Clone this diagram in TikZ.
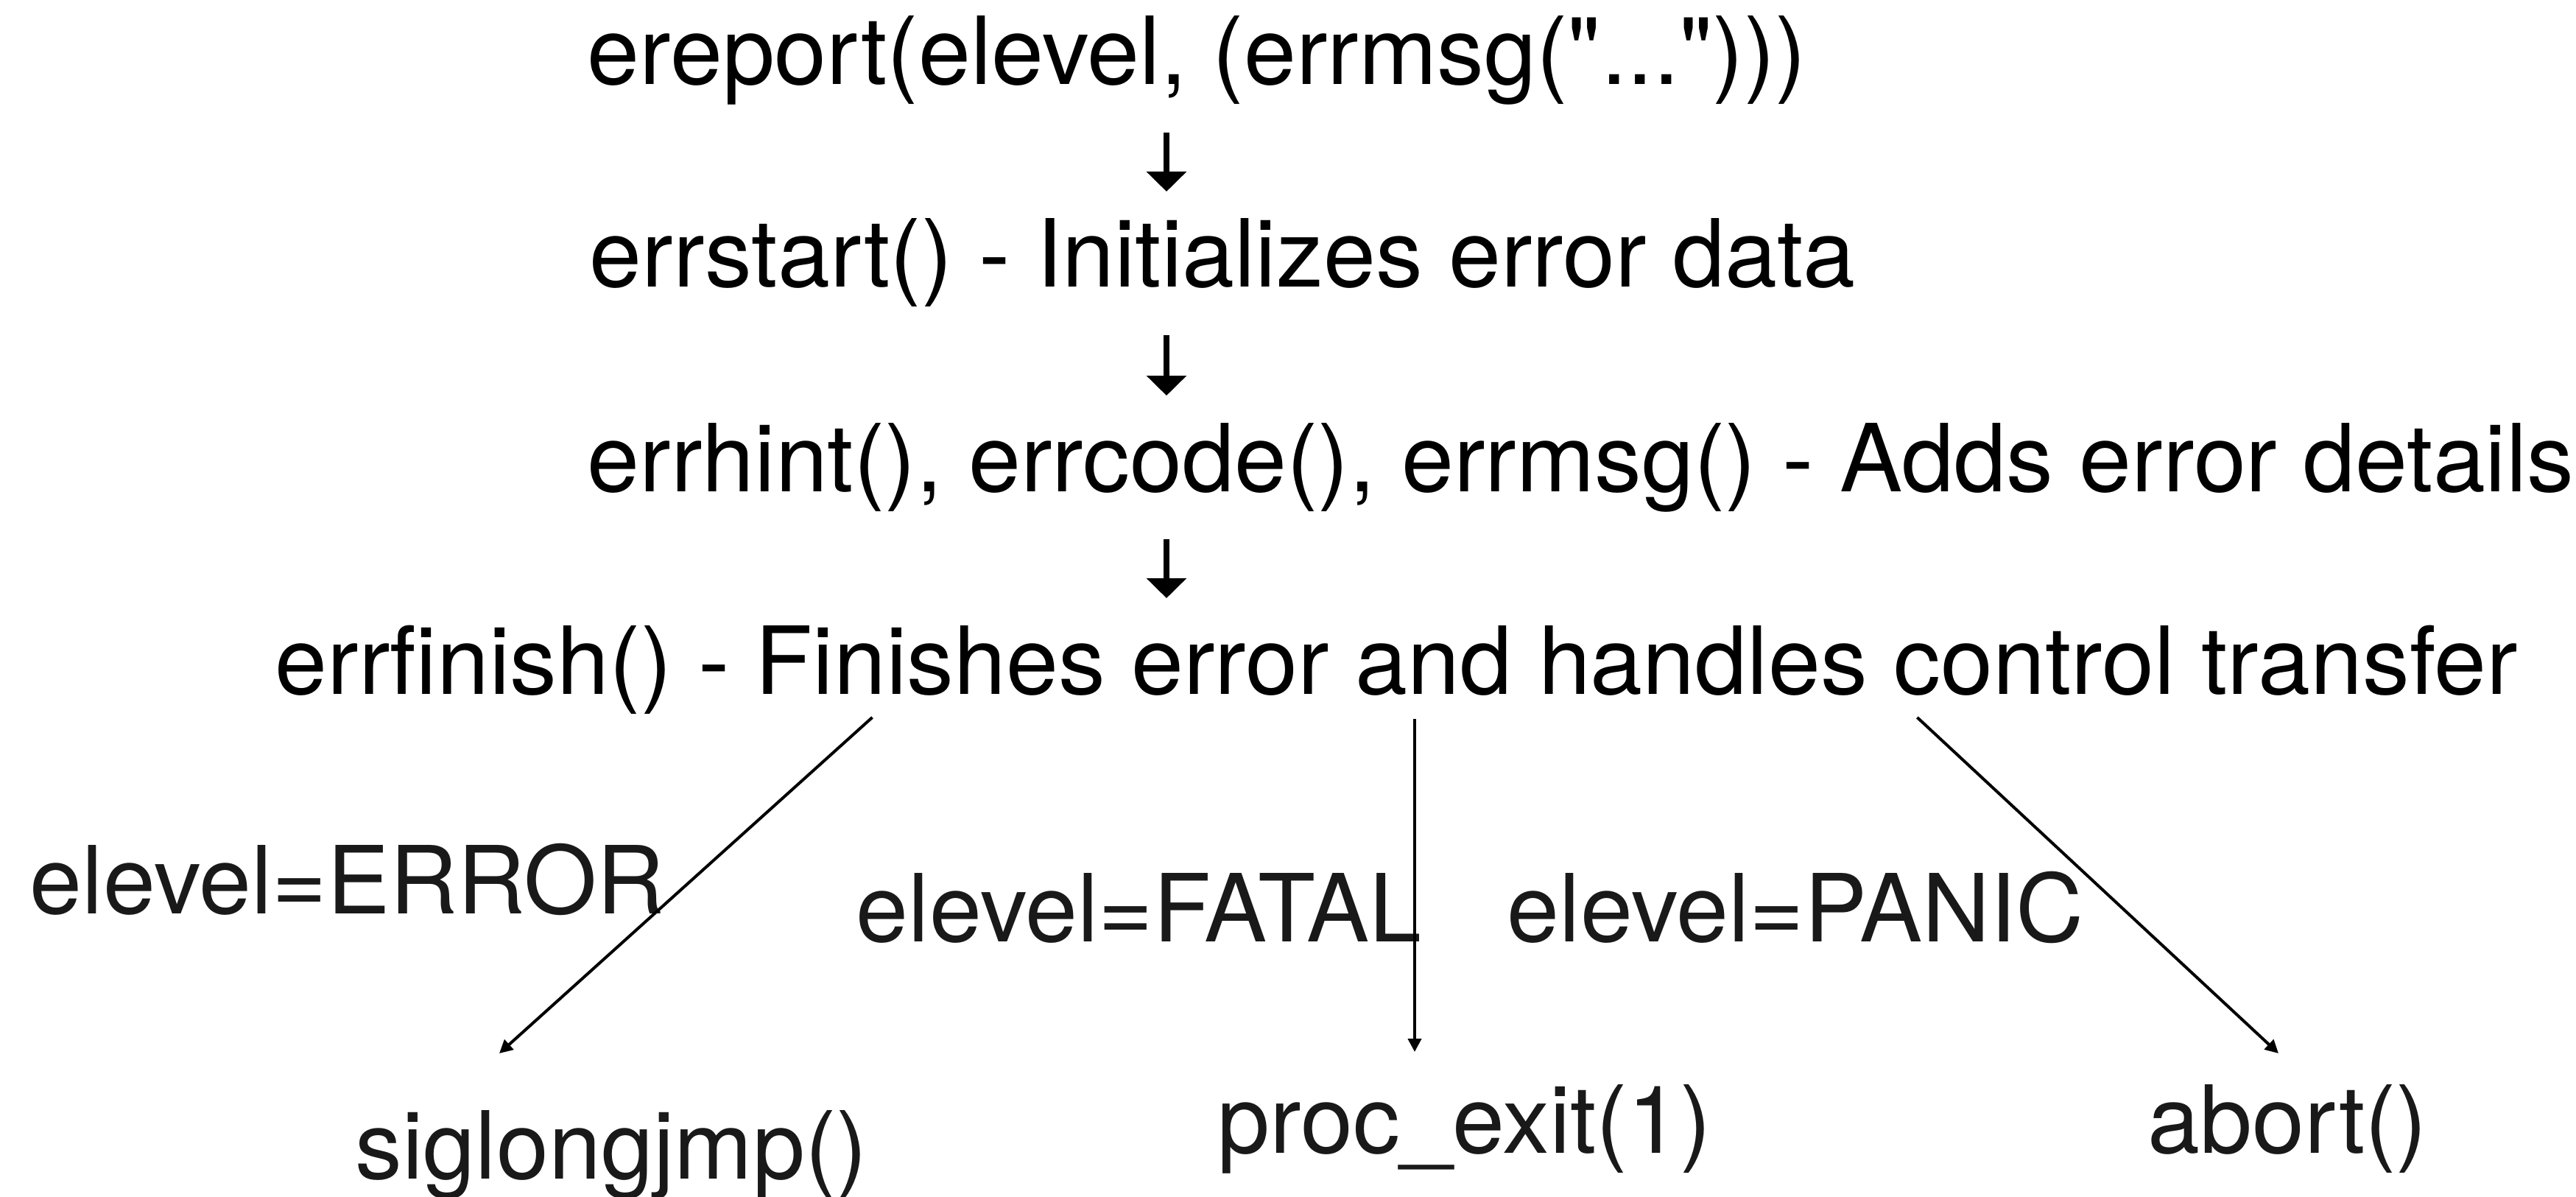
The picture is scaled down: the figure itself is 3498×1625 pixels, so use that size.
\documentclass[tikz,border=0pt]{standalone}
\usepackage{fontspec}
\setmainfont{TeX Gyre Heros}[Ligatures=TeXOff]
\usetikzlibrary{arrows.meta}

\tikzset{
  codeline/.style={anchor=base west,inner sep=0pt,font={\fontsize{31.9}{38}\selectfont}},
  levelnote/.style={codeline,text=black!90},
  stepdown/.style={line width=2pt,-{Triangle[width=13.25pt,length=6.75pt]}},
  branch/.style={line width=1pt,shorten <=1.5pt,-{Triangle[width=4.5pt,length=4.5pt]}}
}

\begin{document}
\begin{tikzpicture}[x=0.25pt,y=-0.25pt]
\useasboundingbox (0,0) rectangle (3498,1625);

% call chain
\node[codeline] (r1) at (797,115) {ereport(elevel, (errmsg("...")))};
\node[codeline] (r2) at (800,390) {errstart() - Initializes error data};
\node[codeline] (r3) at (797,667) {errhint(), errcode(), errmsg() - Adds error details};
\node[codeline] (r4) at (373,942) {errfinish() - Finishes error and handles control transfer};

\coordinate (col) at (1584,0);
\foreach \a/\b in {r1/r2,r2/r3,r3/r4}
  \draw[stepdown] ([yshift=-16.25pt]\a.base -| col) -- ([yshift=32.5pt]\b.base -| col);

% elevel cases
\node[levelnote] (lerr) at (40,1240) {elevel=ERROR};
\node[levelnote] (lfat) at (1162,1278) {elevel=FATAL};
\node[levelnote] (lpan) at (2046,1278) {elevel=PANIC};

\node[levelnote] (sig) at (482,1600) {siglongjmp()};
\node[levelnote] (pex) at (1653,1565) {proc\_exit(1)};
\node[levelnote] (abo) at (2916,1565) {abort()};

\coordinate (forksig) at (1189,975);
\coordinate (forkpex) at (1921,975);
\coordinate (forkabo) at (2599,972);
\coordinate (tipsig) at (678,1430);
\coordinate (tippex) at (1921,1428);
\coordinate (tipabo) at (3094,1430);
\foreach \t in {sig,pex,abo}
  \draw[branch] (r4.south -| fork\t) -- (tip\t);

\end{tikzpicture}
\end{document}
